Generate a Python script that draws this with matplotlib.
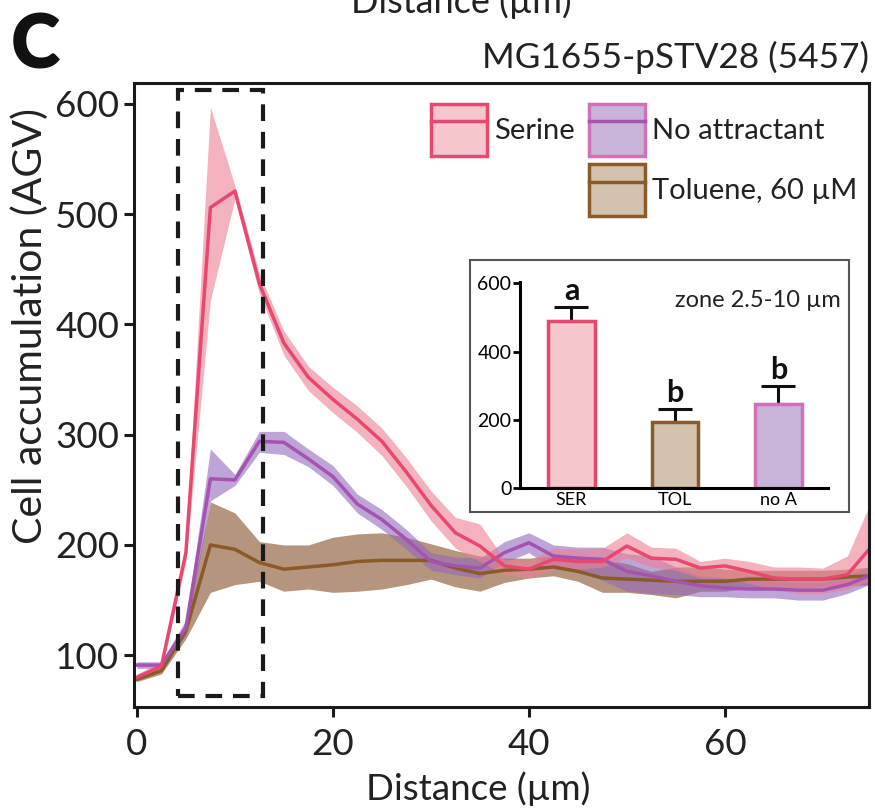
import matplotlib
matplotlib.use("Agg")
import matplotlib.pyplot as plt
from matplotlib.patches import Patch, Rectangle
from matplotlib.lines import Line2D

plt.rcParams['font.family'] = ['Lato', 'DejaVu Sans']

# distance along channel (um)
distance = [0, 2.5, 5, 7.5, 10, 12.5, 15, 17.5, 20, 22.5, 25, 27.5, 30, 32.5, 35,
            37.5, 40, 42.5, 45, 47.5, 50, 52.5, 55, 57.5, 60, 62.5, 65, 67.5, 70, 72.5, 75]

serine = [80, 90, 193, 506, 521, 437, 383, 352, 332, 314, 294, 266, 236, 211, 199,
          181, 178, 187, 185, 185, 199, 188, 187, 179, 181, 176, 170, 169, 169, 173, 199]
serine_lo = [77, 86, 185, 422, 514, 428, 372, 340, 320, 302, 281, 253, 222, 197, 185,
             173, 170, 177, 178, 180, 188, 180, 177, 170, 170, 165, 160, 156, 156, 160, 168]
serine_hi = [83, 94, 200, 597, 526, 446, 394, 362, 343, 326, 306, 279, 249, 225, 219,
             187, 186, 197, 196, 197, 211, 198, 197, 185, 188, 185, 180, 180, 179, 190, 241]

no_attr = [91, 91, 125, 260, 259, 294, 293, 278, 262, 237, 223, 205, 185, 181, 179,
           193, 202, 190, 188, 187, 176, 172, 167, 163, 161, 160, 160, 159, 159, 164, 173]
no_attr_lo = [88, 88, 118, 240, 254, 284, 282, 271, 254, 229, 214, 196, 177, 173, 170,
              184, 193, 178, 176, 168, 158, 156, 155, 153, 153, 152, 152, 150, 150, 156, 165]
no_attr_hi = [94, 94, 132, 287, 264, 303, 303, 287, 272, 246, 232, 214, 193, 189, 188,
              203, 211, 200, 198, 198, 192, 190, 180, 172, 170, 168, 167, 166, 166, 172, 182]

toluene = [78, 86, 122, 200, 196, 184, 178, 180, 182, 185, 186, 186, 186, 179, 174,
           177, 178, 180, 176, 170, 169, 168, 167, 167, 167, 169, 169, 169, 169, 171, 172]
toluene_lo = [76, 83, 115, 157, 164, 167, 158, 160, 157, 158, 160, 164, 169, 162, 158,
              166, 170, 172, 167, 157, 157, 155, 152, 158, 158, 161, 161, 161, 162, 163, 164]
toluene_hi = [80, 89, 130, 239, 229, 203, 200, 200, 207, 210, 211, 207, 201, 195, 190,
              188, 188, 190, 187, 187, 183, 176, 180, 180, 178, 177, 177, 177, 177, 178, 180]

# inset: zone 2.5-10 um
bar_names = ['SER', 'TOL', 'no A']
bar_vals = [490, 195, 247]
bar_err = [41, 36, 52]
bar_letters = ['a', 'b', 'b']

ser_line = '#E8476F'
ser_band = '#EE8095'
ser_fill = '#F6C6CD'
noa_line = '#A553B0'
noa_band = '#9467BD'
noa_fill = '#C9B4D9'
noa_edge = '#D070B8'
tol_line = '#8B5A2B'
tol_band = '#9C7252'
tol_fill = '#D4C1AE'

fig = plt.figure(figsize=(8.75, 8.08), dpi=100)
ax = fig.add_axes([0.1531, 0.125, 0.84, 0.7723])

ax.fill_between(distance, toluene_lo, toluene_hi, color=tol_band, alpha=0.75, lw=0)
ax.fill_between(distance, no_attr_lo, no_attr_hi, color=noa_band, alpha=0.6, lw=0)
ax.fill_between(distance, serine_lo, serine_hi, color=ser_band, alpha=0.6, lw=0)
ax.plot(distance, toluene, color=tol_line, lw=2.5)
ax.plot(distance, no_attr, color=noa_line, lw=2.5)
ax.plot(distance, serine, color=ser_line, lw=2.5)

# dashed zone box
ax.add_patch(Rectangle((4.2, 62.6), 8.7, 550, fill=False, ec='#1a1a1a', lw=3,
                       ls=(0, (4, 2.6)), zorder=5))

ax.set_xlim(-0.3, 74.7)
ax.set_ylim(53, 619)
ax.set_xticks([0, 20, 40, 60])
ax.set_yticks([100, 200, 300, 400, 500, 600])
ax.tick_params(labelsize=26.5, width=2.2, length=7, color='#1a1a1a', labelcolor='#222222')
ax.tick_params(axis='x', pad=8)
for s in ax.spines.values():
    s.set_linewidth(2.2)
    s.set_color('#1a1a1a')
ax.set_xlabel('Distance (µm)', fontsize=26.5, color='#222222', labelpad=0)
ax.xaxis.set_label_coords(0.468, -0.103)
fig.text(0.034, 0.5965, 'Cell accumulation (AGV)', fontsize=29.5, rotation=90,
         ha='center', va='center', color='#222222')

# legend
h_ser = (Patch(fc=ser_fill, ec=ser_line, lw=2.5), Line2D([], [], color=ser_line, lw=2.5))
h_noa = (Patch(fc=noa_fill, ec=noa_edge, lw=2.5), Line2D([], [], color=noa_line, lw=2.5))
h_tol = (Patch(fc=tol_fill, ec=tol_line, lw=2.5), Line2D([], [], color=tol_line, lw=2.5))
h_blank = Patch(fc='none', ec='none')
ax.legend([h_ser, h_blank, h_noa, h_tol],
          ['Serine', '', 'No attractant', 'Toluene, 60 µM'],
          ncol=2, frameon=False, fontsize=21, loc='upper right',
          bbox_to_anchor=(1.0, 0.985), handlelength=1.92, handleheight=2.35,
          handletextpad=0.24, columnspacing=0.5, labelspacing=0.3,
          borderaxespad=0.0, labelcolor='#222222')

ax.text(1.0, 1.015, 'MG1655-pSTV28 (5457)', transform=ax.transAxes, ha='right',
        va='bottom', fontsize=25.3, color='#222222')
fig.text(0.012, 0.915, 'C', fontsize=54, fontweight='heavy', color='#111111')
fig.text(0.527, 0.984, 'Distance (µm)', fontsize=26, ha='center', va='baseline',
         color='#222222')

# inset frame
fig.patches.append(Rectangle((0.537, 0.3667), 0.4336, 0.3113, transform=fig.transFigure,
                             fill=True, fc='white', ec='#555555', lw=1.5, zorder=3))

ins = fig.add_axes([0.594, 0.3957, 0.3523, 0.2557])
ins.set_zorder(4)
ins.patch.set_alpha(0)
ins.bar(range(3), bar_vals, width=0.45, color=[ser_fill, tol_fill, noa_fill],
        edgecolor=[ser_line, tol_line, noa_edge], linewidth=2.5, zorder=2)
ins.errorbar(range(3), bar_vals, yerr=[[0, 0, 0], bar_err], fmt='none',
             ecolor='#111111', elinewidth=2.2, capsize=12, capthick=2.2, zorder=1)
for i in range(3):
    ins.text(i, bar_vals[i] + bar_err[i] + 6, bar_letters[i], ha='center', va='bottom',
             fontsize=22, fontweight='bold', color='#111111')
ins.text(1.04, 0.96, 'zone 2.5-10 µm', transform=ins.transAxes, ha='right', va='top',
         fontsize=17, color='#222222')
ins.set_xlim(-0.5, 2.48)
ins.set_ylim(0, 605)
ins.set_yticks([0, 200, 400, 600])
ins.set_xticks(range(3))
ins.set_xticklabels(bar_names)
ins.tick_params(axis='y', labelsize=14, width=2, length=5, pad=1)
ins.tick_params(axis='x', labelsize=13, length=0, pad=3)
for side in ['top', 'right']:
    ins.spines[side].set_visible(False)
for side in ['left', 'bottom']:
    ins.spines[side].set_linewidth(2.2)

fig.savefig('out.png', dpi=100)
